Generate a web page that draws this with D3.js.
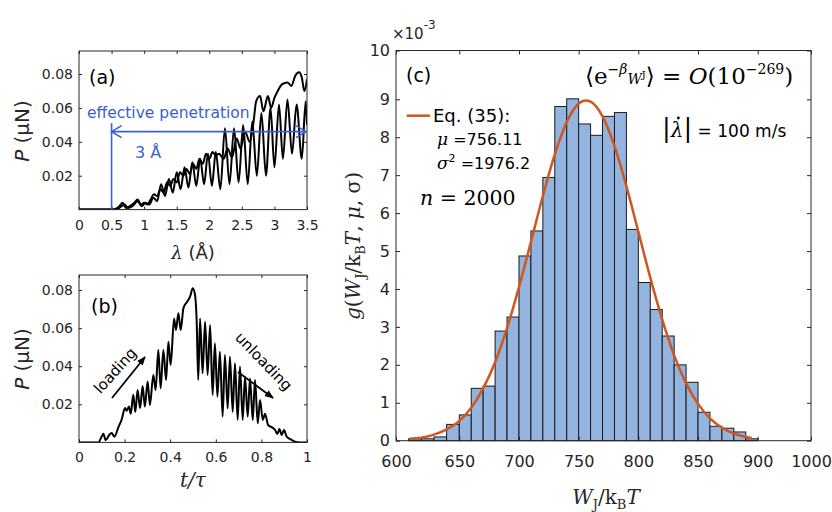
<!DOCTYPE html>
<html>
<head>
<meta charset="utf-8">
<script src="https://cdn.jsdelivr.net/npm/d3@7"></script>
<style>
  body { margin: 0; background: #fff; }
  svg { display: block; font-family: "DejaVu Sans", Arial, sans-serif; }
</style>
</head>
<body>
<div id="chart"></div>
<script>
const AXIS = '#262626'
const BLUE = '#3b60d0'
const ORANGE = '#d0551e'
const BAR = '#94b4e0'
const SANS = '"DejaVu Sans", Arial, sans-serif'
const SERIF = '"DejaVu Serif", "Liberation Serif", serif'

// panel (a): force P (uN) vs penetration lambda (A)
const aTicksX = [0, 0.5, 1, 1.5, 2, 2.5, 3, 3.5]
const aTicksY = [0.02, 0.04, 0.06, 0.08]
const loadingA = [
  [0, 0], [0.5, 0], [0.55, 0.0003], [0.62, 0.002], [0.67, 0.004], [0.72, 0.001], [0.78, 0.002],
  [0.85, 0.004], [0.9, 0.006], [0.95, 0.003], [1.0, 0.004], [1.05, 0.003], [1.1, 0.006], [1.15, 0.009],
  [1.2, 0.008], [1.25, 0.012], [1.3, 0.01], [1.35, 0.016], [1.4, 0.014], [1.45, 0.018], [1.5, 0.016],
  [1.55, 0.022], [1.6, 0.02], [1.65, 0.024], [1.7, 0.021], [1.75, 0.027], [1.8, 0.024], [1.85, 0.03],
  [1.9, 0.027], [1.95, 0.033], [2.0, 0.03], [2.05, 0.034], [2.1, 0.032], [2.15, 0.033], [2.22, 0.03],
  [2.28, 0.036], [2.35, 0.031], [2.42, 0.042], [2.48, 0.036], [2.55, 0.046], [2.62, 0.04], [2.68, 0.052],
  [2.72, 0.064], [2.78, 0.067], [2.83, 0.058], [2.9, 0.067], [2.95, 0.06], [3.0, 0.066], [3.05, 0.07],
  [3.12, 0.074], [3.2, 0.075], [3.26, 0.073], [3.32, 0.079], [3.38, 0.081], [3.42, 0.078], [3.46, 0.07],
  [3.5, 0.077]
]
const unloadingA = [
  [0, 0], [0.5, 0], [0.55, 0], [0.62, 0.001], [0.7, 0.003], [0.75, 0.001], [0.82, 0.002], [0.9, 0.005],
  [0.96, 0.002], [1.02, 0.004], [1.08, 0.003], [1.14, 0.007], [1.2, 0.005], [1.26, 0.015], [1.32, 0.008],
  [1.38, 0.018], [1.44, 0.01], [1.5, 0.022], [1.56, 0.012], [1.62, 0.025], [1.68, 0.013], [1.74, 0.028],
  [1.8, 0.014], [1.86, 0.03], [1.92, 0.015], [1.98, 0.033], [2.04, 0.014], [2.1, 0.034], [2.17, 0.012],
  [2.24, 0.048], [2.31, 0.015], [2.38, 0.048], [2.45, 0.016], [2.52, 0.05], [2.59, 0.015], [2.66, 0.052],
  [2.73, 0.02], [2.8, 0.057], [2.87, 0.02], [2.94, 0.06], [3.0, 0.025], [3.07, 0.062], [3.13, 0.03],
  [3.2, 0.065], [3.27, 0.033], [3.34, 0.062], [3.42, 0.03], [3.48, 0.064], [3.5, 0.05]
]

// panel (b): force vs normalised time
const bTicksX = [0, 0.2, 0.4, 0.6, 0.8, 1]
const bTicksY = [0.02, 0.04, 0.06, 0.08]
const forceB = [
  [0, 0], [0.085, 0], [0.099, 0.003], [0.107, 0.0045], [0.117, 0.0012], [0.133, 0.004], [0.143, 0.005],
  [0.155, 0.003], [0.173, 0.008], [0.187, 0.012], [0.202, 0.018], [0.209, 0.0166], [0.219, 0.0188],
  [0.227, 0.015], [0.238, 0.025], [0.247, 0.016], [0.257, 0.0275], [0.268, 0.018], [0.279, 0.0296],
  [0.289, 0.0188], [0.301, 0.032], [0.311, 0.0196], [0.326, 0.0354], [0.336, 0.0275], [0.348, 0.0485],
  [0.358, 0.0284], [0.37, 0.0485], [0.382, 0.0328], [0.392, 0.0529], [0.402, 0.0406], [0.417, 0.0651],
  [0.425, 0.059], [0.436, 0.0678], [0.446, 0.059], [0.458, 0.0704], [0.475, 0.074], [0.487, 0.0765],
  [0.499, 0.0809], [0.509, 0.0773], [0.516, 0.064], [0.523, 0.0328], [0.531, 0.0651], [0.542, 0.0363],
  [0.553, 0.0634], [0.564, 0.0354], [0.575, 0.0616], [0.586, 0.0249], [0.596, 0.052], [0.607, 0.024],
  [0.618, 0.0476], [0.63, 0.0135], [0.64, 0.0459], [0.652, 0.0178], [0.662, 0.045], [0.674, 0.016],
  [0.684, 0.0415], [0.696, 0.0118], [0.706, 0.0398], [0.718, 0.0118], [0.728, 0.0345], [0.74, 0.0135],
  [0.75, 0.0336], [0.762, 0.0118], [0.772, 0.0328], [0.784, 0.01], [0.794, 0.0222], [0.806, 0.0118],
  [0.816, 0.015], [0.83, 0.009], [0.845, 0.008], [0.86, 0.0065], [0.87, 0.0044], [0.879, 0.007],
  [0.889, 0.0039], [0.899, 0.0065], [0.911, 0.003], [0.928, 0.0016], [0.947, 0.0004], [0.969, 0], [1, 0]
]

// panel (c): histogram of W_J / kT (density x 1e-3, bin width 10) and Eq. (35) fit
const binStarts = [610, 620, 630, 640, 650, 660, 670, 680, 690, 700, 710, 720, 730, 740, 750,
  760, 770, 780, 790, 800, 810, 820, 830, 840, 850, 860, 870, 880, 890]
const binHeights = [0.05, 0.05, 0.1, 0.43, 0.68, 1.38, 1.44, 2.89, 3.26, 4.87, 5.53, 6.94, 8.81, 9.01, 8.35,
  8.05, 8.55, 8.65, 5.57, 4.17, 3.46, 2.76, 2.0, 1.54, 0.75, 0.38, 0.33, 0.23, 0.05]
const fitX = [611, 620, 630, 640, 650, 660, 670, 680, 690, 700, 710, 720, 730, 740, 750, 756,
  760, 770, 780, 790, 800, 810, 820, 830, 840, 850, 860, 870, 880, 890, 895]
const fitY = [0.05, 0.08, 0.16, 0.3, 0.52, 0.87, 1.38, 2.07, 2.97, 4.05, 5.24, 6.45, 7.55, 8.4, 8.89, 8.97,
  8.94, 8.55, 7.77, 6.71, 5.51, 4.3, 3.2, 2.25, 1.51, 0.97, 0.59, 0.34, 0.19, 0.1, 0.07]
const cTicksX = [600, 650, 700, 750, 800, 850, 900, 1000]
const cTicksY = [0, 1, 2, 3, 4, 5, 6, 7, 8, 9, 10]

const W = 832, H = 512
const svg = d3.select('#chart').append('svg').attr('width', W).attr('height', H)

function rich(text, parts) {
  let shift = 0
  parts.forEach((p) => {
    const ts = text.append('tspan').text(p.t)
    const target = p.dy || 0
    if (target !== shift) { ts.attr('dy', target - shift); shift = target }
    if (p.dx) ts.attr('dx', p.dx)
    if (p.i) ts.attr('font-style', 'italic')
    if (p.fs) ts.attr('font-size', p.fs)
    if (p.ff) ts.attr('font-family', p.ff)
  })
  return text
}

function frame(x, y, xticks, yticks, xfmt, yfmt, opt) {
  const [x0, x1] = [x.range()[0], x.range()[x.range().length - 1]]
  const [y0, y1] = [y.range()[0], y.range()[y.range().length - 1]]
  const g = svg.append('g')
  const style = (a) => a.call((s) => s.select('.domain').remove())
    .attr('font-family', SANS)
    .attr('font-size', opt.fs)
    .call((s) => s.selectAll('line').attr('stroke', AXIS))
    .call((s) => s.selectAll('text').attr('fill', AXIS))
  g.append('g').attr('transform', `translate(0,${y0})`)
    .call(d3.axisBottom(x).tickValues(xticks).tickSize(-opt.tick).tickPadding(opt.padX).tickFormat(xfmt)).call(style)
  g.append('g').attr('transform', `translate(0,${y1})`)
    .call(d3.axisTop(x).tickValues(xticks).tickSize(-opt.tick).tickFormat('')).call(style)
  g.append('g').attr('transform', `translate(${x0},0)`)
    .call(d3.axisLeft(y).tickValues(yticks).tickSize(-opt.tick).tickPadding(opt.padY).tickFormat(yfmt)).call(style)
  g.append('g').attr('transform', `translate(${x1},0)`)
    .call(d3.axisRight(y).tickValues(yticks).tickSize(-opt.tick).tickFormat('')).call(style)
  g.append('rect').attr('x', x0).attr('y', y1).attr('width', x1 - x0).attr('height', y0 - y1)
    .attr('fill', 'none').attr('stroke', AXIS).attr('stroke-width', 1)
  return g
}

const defs = svg.append('defs')
defs.append('marker').attr('id', 'head').attr('viewBox', '0 0 10 10').attr('refX', 9).attr('refY', 5)
  .attr('markerWidth', 5).attr('markerHeight', 5).attr('orient', 'auto')
  .append('path').attr('d', 'M0,1 L10,5 L0,9 Z').attr('fill', '#000')

// ---------- panel (a) ----------
const xA = d3.scaleLinear().domain([0, 3.5]).range([79, 307])
const yA = d3.scaleLinear().domain([0, 0.0936]).range([209.6, 51])
const lineA = d3.line().x((d) => xA(d[0])).y((d) => yA(d[1])).curve(d3.curveMonotoneX)

svg.append('clipPath').attr('id', 'clipA').append('rect').attr('x', 79).attr('y', 51).attr('width', 228).attr('height', 159)
const plotA = svg.append('g').attr('clip-path', 'url(#clipA)')
;[loadingA, unloadingA].forEach((s) => {
  plotA.append('path').datum(s).attr('d', lineA).attr('fill', 'none').attr('stroke', '#000')
    .attr('stroke-width', 2).attr('stroke-linejoin', 'round')
})
frame(xA, yA, aTicksX, aTicksY, d3.format('~g'), d3.format('.2f'), { fs: 14, tick: 3, padX: 10, padY: 6 })

// effective penetration annotation
const ann = svg.append('g').attr('stroke', BLUE).attr('stroke-width', 1.6).attr('fill', 'none')
ann.append('line').attr('x1', xA(0.5)).attr('x2', xA(0.5)).attr('y1', yA(0)).attr('y2', yA(0.051))
ann.append('line').attr('x1', xA(0.5)).attr('x2', xA(3.5) - 1).attr('y1', yA(0.046)).attr('y2', yA(0.046))
ann.append('path').attr('d', `M${xA(0.5) + 10},${yA(0.046) - 6} L${xA(0.5)},${yA(0.046)} L${xA(0.5) + 10},${yA(0.046) + 6}`)
ann.append('path').attr('d', `M${xA(3.5) - 11},${yA(0.046) - 6} L${xA(3.5) - 1},${yA(0.046)} L${xA(3.5) - 11},${yA(0.046) + 6}`)
svg.append('text').attr('x', 87).attr('y', 118).attr('fill', BLUE).attr('font-size', 15.5).text('effective penetration')
svg.append('text').attr('x', 135).attr('y', 158).attr('fill', BLUE).attr('font-size', 16).text('3 Å')

svg.append('text').attr('x', 89).attr('y', 84).attr('font-size', 19).attr('fill', '#000').text('(a)')
rich(svg.append('text').attr('transform', 'translate(29,131) rotate(-90)').attr('text-anchor', 'middle')
  .attr('font-size', 20).attr('fill', AXIS), [{ t: 'P', i: true }, { t: ' (μN)' }])
rich(svg.append('text').attr('x', 193).attr('y', 259).attr('text-anchor', 'middle').attr('font-size', 18).attr('fill', AXIS),
  [{ t: 'λ', i: true, ff: SERIF }, { t: ' (Å)' }])

// ---------- panel (b) ----------
const xB = d3.scaleLinear().domain([0, 1]).range([79, 307])
const yB = d3.scaleLinear().domain([0, 0.0879]).range([442.4, 275])
const lineB = d3.line().x((d) => xB(d[0])).y((d) => yB(d[1])).curve(d3.curveMonotoneX)
svg.append('clipPath').attr('id', 'clipB').append('rect').attr('x', 79).attr('y', 275).attr('width', 228).attr('height', 168)
svg.append('g').attr('clip-path', 'url(#clipB)').append('path').datum(forceB).attr('d', lineB)
  .attr('fill', 'none').attr('stroke', '#000').attr('stroke-width', 2).attr('stroke-linejoin', 'round')
frame(xB, yB, bTicksX, bTicksY, d3.format('~g'), d3.format('.2f'), { fs: 14, tick: 3, padX: 10, padY: 6 })

svg.append('text').attr('x', 91).attr('y', 313).attr('font-size', 19).attr('fill', '#000').text('(b)')
rich(svg.append('text').attr('transform', 'translate(29,359) rotate(-90)').attr('text-anchor', 'middle')
  .attr('font-size', 20).attr('fill', AXIS), [{ t: 'P', i: true }, { t: ' (μN)' }])
svg.append('text').attr('x', 193).attr('y', 487).attr('text-anchor', 'middle').attr('font-size', 20)
  .attr('font-family', SERIF).attr('font-style', 'italic').attr('fill', AXIS).text('t/τ')

svg.append('text').attr('transform', 'translate(119,374) rotate(-48)').attr('text-anchor', 'middle')
  .attr('font-size', 15).attr('fill', '#000').text('loading')
svg.append('line').attr('x1', 112).attr('y1', 398).attr('x2', 145).attr('y2', 357)
  .attr('stroke', '#000').attr('stroke-width', 1.8).attr('marker-end', 'url(#head)')
svg.append('text').attr('transform', 'translate(260,365) rotate(46)').attr('text-anchor', 'middle')
  .attr('font-size', 15).attr('fill', '#000').text('unloading')
svg.append('line').attr('x1', 238).attr('y1', 372).attr('x2', 273).attr('y2', 398)
  .attr('stroke', '#000').attr('stroke-width', 1.8).attr('marker-end', 'url(#head)')

// ---------- panel (c) ----------
const xC = d3.scaleLinear().domain([600, 650, 900, 1000]).range([396, 459.3, 757.7, 811])
const yC = d3.scaleLinear().domain([0, 9, 10]).range([440.7, 99.3, 50.5])

svg.append('g').selectAll('rect').data(binStarts).join('rect')
  .attr('x', (d) => xC(d)).attr('width', (d) => xC(d + 10) - xC(d))
  .attr('y', (d, i) => yC(binHeights[i])).attr('height', (d, i) => yC(0) - yC(binHeights[i]))
  .attr('fill', BAR).attr('stroke', '#1a1a1a').attr('stroke-width', 1)

const fitLine = d3.line().x((d) => xC(d)).y((d, i) => yC(fitY[i])).curve(d3.curveMonotoneX)
svg.append('path').datum(fitX).attr('d', fitLine).attr('fill', 'none').attr('stroke', ORANGE).attr('stroke-width', 2.5)

frame(xC, yC, cTicksX, cTicksY, d3.format('d'), d3.format('d'), { fs: 16, tick: 4, padX: 15, padY: 6 })

rich(svg.append('text').attr('x', 392).attr('y', 39).attr('font-size', 15).attr('fill', AXIS),
  [{ t: '×10' }, { t: '-3', dy: -10, fs: 12 }])

svg.append('text').attr('x', 406).attr('y', 82).attr('font-size', 19).attr('fill', '#000').text('(c)')

svg.append('line').attr('x1', 406.7).attr('x2', 430).attr('y1', 115.7).attr('y2', 115.7)
  .attr('stroke', ORANGE).attr('stroke-width', 2.5)
svg.append('text').attr('x', 433).attr('y', 122).attr('font-size', 18).attr('fill', '#000').text('Eq. (35):')
rich(svg.append('text').attr('x', 437).attr('y', 145).attr('font-size', 16).attr('fill', '#000'),
  [{ t: 'μ', i: true, ff: SERIF, fs: 17 }, { t: ' =756.11' }])
rich(svg.append('text').attr('x', 437).attr('y', 169).attr('font-size', 16).attr('fill', '#000'),
  [{ t: 'σ', i: true, ff: SERIF, fs: 17 }, { t: '2', dy: -7, fs: 11 }, { t: ' =1976.2', dy: 0 }])
rich(svg.append('text').attr('x', 420).attr('y', 205).attr('font-size', 20.5).attr('font-family', SERIF).attr('fill', '#000'),
  [{ t: 'n', i: true }, { t: ' = 2000' }])

rich(svg.append('text').attr('x', 585).attr('y', 84).attr('font-size', 23).attr('font-family', SERIF).attr('fill', '#000'),
  [{ t: '⟨e' }, { t: '−β', i: true, dy: -10, fs: 14 }, { t: 'W', i: true, fs: 14 }, { t: 'J', dy: -6, fs: 10 },
   { t: '⟩ = ', dy: 0 }, { t: 'O', i: true }, { t: '(10' }, { t: '−269', dy: -10, fs: 14 }, { t: ')', dy: 0 }])

const rate = rich(svg.append('text').attr('x', 662).attr('y', 137).attr('font-size', 17).attr('fill', '#000'),
  [{ t: '|', ff: SERIF, fs: 26 }, { t: 'λ', i: true, ff: SERIF, fs: 20 }, { t: '|', ff: SERIF, fs: 26 }, { t: ' = 100 m/s' }])
const lam = rate.node().getExtentOfChar(1)
svg.append('circle').attr('cx', lam.x + lam.width * 0.6).attr('cy', 137 - 19).attr('r', 1.4).attr('fill', '#000')

rich(svg.append('text').attr('x', 606).attr('y', 504).attr('text-anchor', 'middle').attr('font-size', 20)
  .attr('font-family', SERIF).attr('fill', AXIS),
  [{ t: 'W', i: true }, { t: 'J', dy: 5, fs: 13 }, { t: '/k', dy: 0 }, { t: 'B', dy: 5, fs: 13 }, { t: 'T', dy: 0, i: true }])
rich(svg.append('text').attr('transform', 'translate(360,246) rotate(-90)').attr('text-anchor', 'middle')
  .attr('font-size', 20).attr('font-family', SERIF).attr('fill', AXIS),
  [{ t: 'g', i: true }, { t: '(' }, { t: 'W', i: true }, { t: 'J', dy: 5, fs: 13 }, { t: '/k', dy: 0 },
   { t: 'B', dy: 5, fs: 13 }, { t: 'T', dy: 0, i: true }, { t: ', ' }, { t: 'μ', i: true }, { t: ', σ)' }])
</script>
</body>
</html>
